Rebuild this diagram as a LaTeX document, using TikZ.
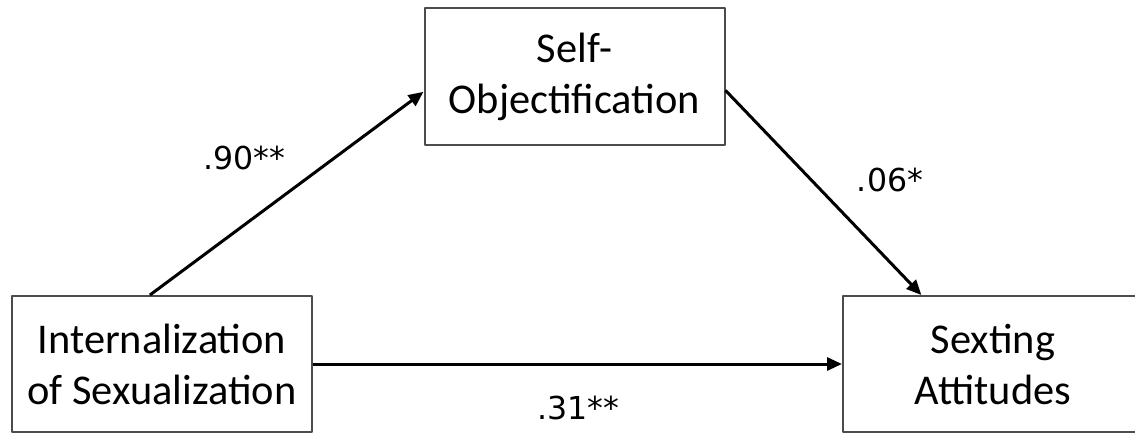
\documentclass[tikz,border=0pt]{standalone}
\usepackage{fontspec}
\setmainfont{Carlito}
\newfontfamily\labfont{DejaVu Sans}
\usetikzlibrary{arrows.meta,calc}
\tikzset{
  varbox/.style={draw=black!70, line width=1pt, minimum width=300pt*0.5, minimum height=136pt*0.5,
    align=center, inner sep=0pt, font=\fontsize{21.2}{25.5}\selectfont},
  path/.style={line width=1.5pt, -{Triangle[length=7.5pt,width=6.5pt]}},
  coef/.style={font=\labfont\fontsize{15.8}{19}\selectfont, inner sep=0pt}
}
\begin{document}
\begin{tikzpicture}[x=0.5pt, y=-0.5pt, line join=round]
  \clip (0,0) rectangle (1135,434);
  \fill[white] (0,0) rectangle (1135,434);
  % the three variables
  \node[varbox] (intern) at (162,364) {Internalization\\of Sexualization};
  \node[varbox, minimum height=137pt*0.5] (selfobj) at (574.5,76.5) {Self-\\Objectification};
  \node[varbox, minimum width=400pt*0.5] (sexting) at (1043,364) {\hspace*{-50pt}\parbox{120pt}{\centering Sexting\\Attitudes}};
  % paths
  \draw[path] ($(intern.north west)!0.46!(intern.north east)$) -- ($(selfobj.north west)!0.61!(selfobj.south west)$);
  \draw[path] ($(selfobj.north east)!0.60!(selfobj.south east)$) -- ($(sexting.north west)!0.1975!(sexting.north east)$);
  \draw[path] (intern.east) -- (sexting.west);
  % coefficients
  \node[coef] (a) at (244,158) {.90**};
  \node[coef] (b) at (890,180) {.06*};
  \node[coef] (c) at (578,408) {.31**};
\end{tikzpicture}
\end{document}
